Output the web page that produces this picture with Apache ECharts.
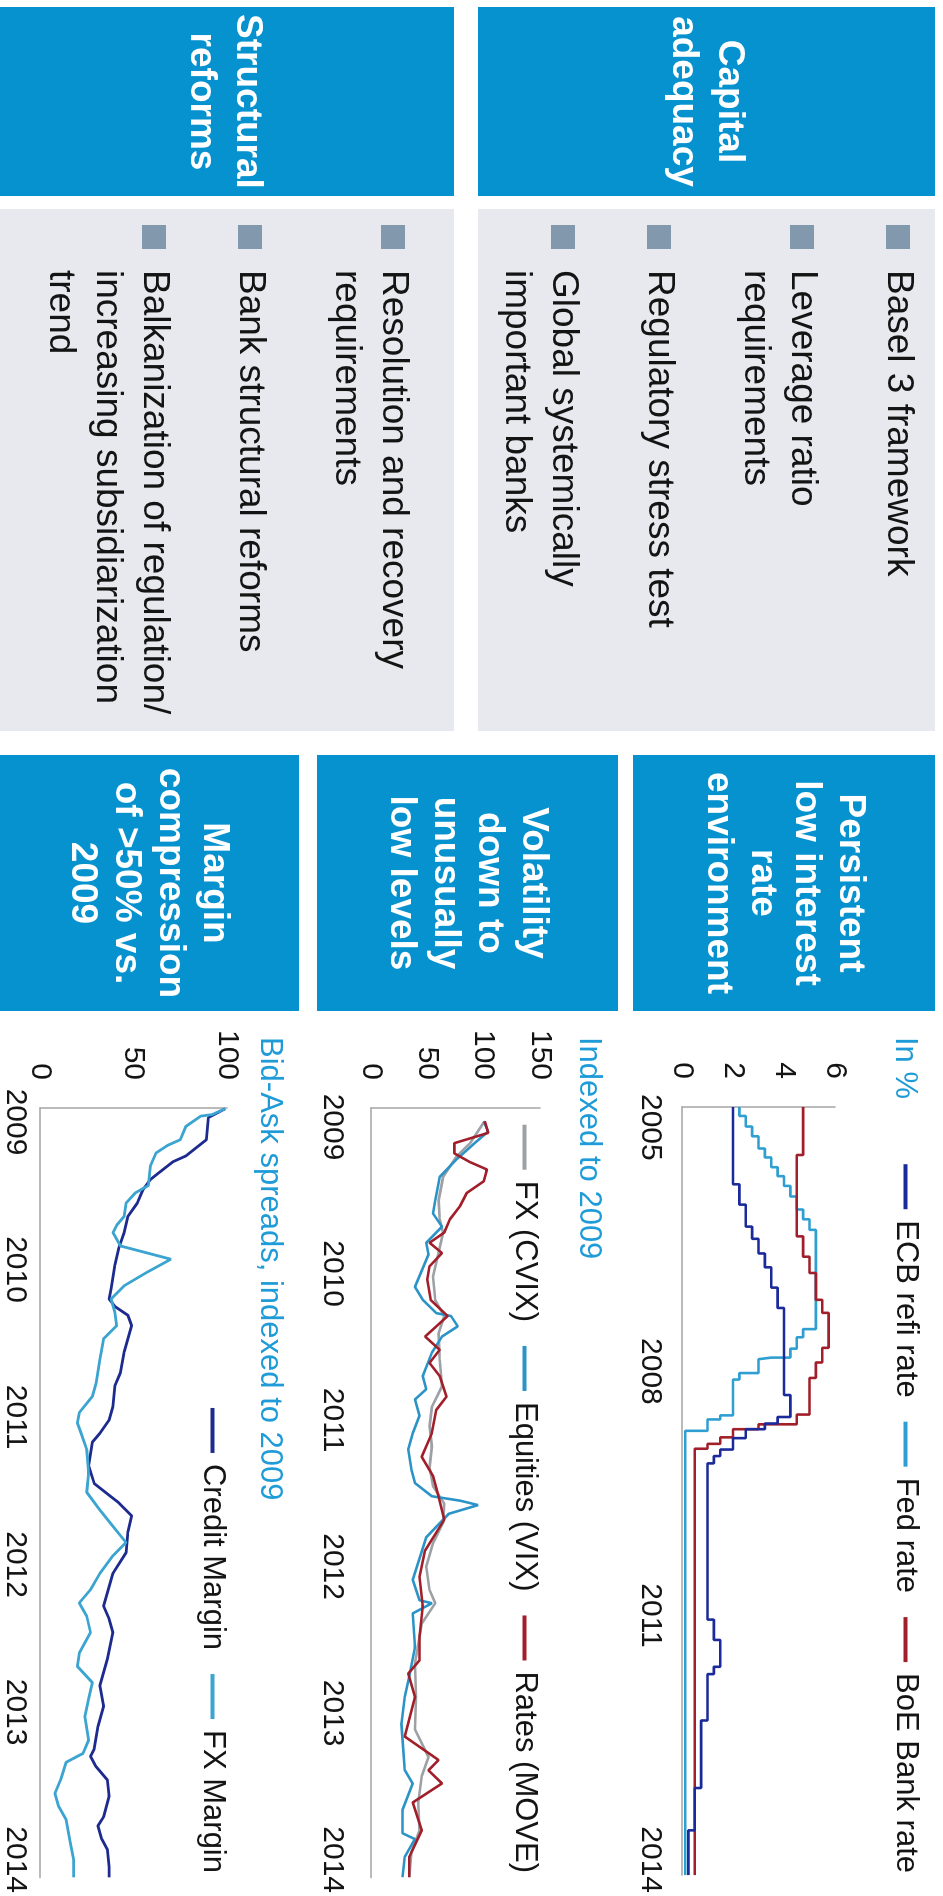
<!DOCTYPE html>
<html>
<head>
<meta charset="utf-8">
<script src="https://cdn.jsdelivr.net/npm/echarts@6/dist/echarts.min.js"></script>
<style>
  html, body { margin: 0; padding: 0; width: 943px; height: 1896px; overflow: hidden; background: #fff; }
  /* the slide is laid out landscape and turned a quarter clockwise */
  #page { position: absolute; left: 0; top: 0; width: 1896px; height: 943px;
          transform-origin: 0 0; transform: translate(943px, 0) rotate(90deg); }
  #chart { width: 1896px; height: 943px; }
</style>
</head>
<body>
<div id="page"><div id="chart"></div></div>
<script>
// ---------- text content ----------
const pillarTitles = [['Capital', 'adequacy'], ['Structural', 'reforms']];
const pillarItems = [
  [['Basel 3 framework'], ['Leverage ratio', 'requirements'], ['Regulatory stress test'], ['Global systemically', 'important banks']],
  [['Resolution and recovery', 'requirements'], ['Bank structural reforms'], ['Balkanization of regulation/', 'increasing subsidiarization', 'trend']]
];
const trendTitles = [
  ['Persistent', 'low interest', 'rate', 'environment'],
  ['Volatility', 'down to', 'unusually', 'low levels'],
  ['Margin', 'compression', 'of >50% vs.', '2009']
];
const chartCaptions = ['In %', 'Indexed to 2009', 'Bid-Ask spreads, indexed to 2009'];

// ---------- axis ticks ----------
const rateYearTicks = [2005, 2008, 2011, 2014];
const indexYearTicks = [2009, 2010, 2011, 2012, 2013, 2014];
const rateTicks = [0, 2, 4, 6];

// ---------- policy rates, in % (change date as decimal year, new rate) ----------
const ecbRefiRate = [
  [2004.75, 2.0], [2005.70, 2.25], [2005.95, 2.5], [2006.22, 2.75], [2006.37, 3.0], [2006.55, 3.25],
  [2006.72, 3.5], [2006.97, 3.75], [2007.22, 4.0], [2008.29, 4.25], [2008.56, 3.75], [2008.64, 3.25],
  [2008.71, 2.5], [2008.82, 2.0], [2008.96, 1.5], [2009.04, 1.25], [2009.13, 1.0], [2011.05, 1.25],
  [2011.30, 1.5], [2011.63, 1.25], [2011.72, 1.0], [2012.29, 0.75], [2013.12, 0.5], [2013.64, 0.25],
  [2014.19, 0.25]
];
const fedRate = [
  [2004.75, 2.25], [2004.86, 2.5], [2004.99, 2.75], [2005.11, 3.0], [2005.26, 3.25], [2005.37, 3.5],
  [2005.49, 3.75], [2005.60, 4.0], [2005.72, 4.25], [2005.85, 4.5], [2006.01, 4.75], [2006.13, 5.0],
  [2006.26, 5.25], [2007.48, 4.75], [2007.58, 4.5], [2007.72, 4.25], [2007.83, 3.5], [2007.85, 3.0],
  [2008.02, 2.25], [2008.10, 2.0], [2008.54, 1.5], [2008.59, 1.0], [2008.73, 0.125], [2014.19, 0.125]
];
const boeBankRate = [
  [2004.75, 4.75], [2005.34, 4.5], [2006.34, 4.75], [2006.59, 5.0], [2006.79, 5.25], [2007.12, 5.5],
  [2007.28, 5.75], [2007.71, 5.5], [2007.89, 5.25], [2008.08, 5.0], [2008.53, 4.5], [2008.65, 3.0],
  [2008.71, 2.0], [2008.81, 1.5], [2008.89, 1.0], [2008.95, 0.5], [2014.19, 0.5]
];

// ---------- implied volatility, indexed to 2009 = 100 ----------
const fxCvix = [
  [2008.97, 100], [2009.11, 88], [2009.20, 76], [2009.34, 64], [2009.50, 60], [2009.63, 61], [2009.72, 64],
  [2009.86, 60], [2010.02, 55], [2010.18, 57], [2010.29, 65], [2010.41, 60], [2010.59, 61], [2010.77, 63],
  [2010.91, 54], [2011.04, 52], [2011.18, 54], [2011.32, 52], [2011.45, 55], [2011.57, 65], [2011.70, 64],
  [2011.84, 55], [2012.00, 49], [2012.16, 52], [2012.25, 57], [2012.39, 45], [2012.66, 39], [2012.89, 40],
  [2013.11, 39], [2013.30, 51], [2013.43, 45], [2013.61, 42], [2013.80, 43], [2013.95, 36], [2014.12, 34]
];
const equitiesVix = [
  [2008.96, 100], [2009.03, 104], [2009.11, 92], [2009.22, 76], [2009.34, 61], [2009.50, 57], [2009.59, 55],
  [2009.68, 63], [2009.79, 49], [2009.87, 51], [2010.09, 39], [2010.18, 46], [2010.27, 58], [2010.29, 71],
  [2010.36, 77], [2010.43, 63], [2010.54, 54], [2010.70, 46], [2010.79, 49], [2010.86, 39], [2010.97, 43],
  [2011.09, 37], [2011.20, 33], [2011.34, 36], [2011.43, 39], [2011.52, 54], [2011.55, 79], [2011.58, 95],
  [2011.64, 69], [2011.80, 49], [2012.09, 37], [2012.23, 43], [2012.25, 54], [2012.32, 37], [2012.55, 39],
  [2012.75, 34], [2012.89, 30], [2013.07, 27], [2013.39, 30], [2013.48, 37], [2013.66, 28], [2013.82, 28],
  [2013.86, 39], [2013.98, 30], [2014.12, 28]
];
const ratesMove = [
  [2008.96, 101], [2009.04, 104], [2009.11, 74], [2009.18, 74], [2009.24, 88], [2009.29, 103], [2009.37, 100],
  [2009.45, 85], [2009.54, 79], [2009.63, 70], [2009.72, 65], [2009.79, 52], [2009.86, 63], [2009.95, 52],
  [2010.04, 50], [2010.18, 53], [2010.29, 68], [2010.43, 48], [2010.52, 61], [2010.61, 52], [2010.70, 61],
  [2010.84, 67], [2010.93, 58], [2011.09, 54], [2011.25, 45], [2011.38, 55], [2011.52, 60], [2011.68, 65],
  [2011.89, 48], [2012.07, 43], [2012.27, 46], [2012.48, 43], [2012.64, 43], [2012.73, 33], [2012.89, 39],
  [2013.16, 30], [2013.32, 60], [2013.39, 51], [2013.48, 63], [2013.61, 37], [2013.80, 45], [2013.98, 34],
  [2014.12, 34]
];

// ---------- bid-ask spreads, indexed to 2009 = 100 ----------
const creditMargin = [
  [2008.91, 99], [2008.97, 90], [2009.12, 89], [2009.23, 78], [2009.27, 71], [2009.34, 64], [2009.39, 59],
  [2009.46, 55], [2009.55, 52], [2009.64, 47], [2009.75, 45], [2009.86, 42], [2009.97, 40], [2010.13, 38],
  [2010.20, 37], [2010.25, 40], [2010.31, 47], [2010.38, 49], [2010.47, 47], [2010.56, 45], [2010.70, 43],
  [2010.79, 40], [2010.93, 39], [2011.02, 37], [2011.11, 32], [2011.17, 28], [2011.33, 26], [2011.45, 29],
  [2011.53, 37], [2011.58, 42], [2011.67, 49], [2011.78, 47], [2011.92, 46], [2012.06, 39], [2012.28, 34],
  [2012.37, 37], [2012.46, 39], [2012.64, 36], [2012.82, 32], [2012.96, 34], [2013.10, 31], [2013.25, 29],
  [2013.30, 27], [2013.37, 30], [2013.46, 36], [2013.57, 37], [2013.71, 34], [2013.77, 31], [2013.86, 33],
  [2013.93, 36], [2014.05, 37], [2014.12, 37]
];
const fxMargin = [
  [2008.91, 99], [2008.95, 92], [2008.96, 86], [2009.03, 78], [2009.12, 75], [2009.16, 68], [2009.21, 62],
  [2009.30, 59], [2009.43, 58], [2009.48, 51], [2009.55, 46], [2009.64, 45], [2009.70, 41], [2009.75, 39],
  [2009.84, 43], [2009.93, 70], [2010.02, 57], [2010.11, 45], [2010.20, 38], [2010.29, 40], [2010.38, 41],
  [2010.47, 34], [2010.61, 32], [2010.77, 30], [2010.86, 28], [2010.97, 21], [2011.04, 20], [2011.11, 22],
  [2011.22, 25], [2011.38, 26], [2011.51, 25], [2011.63, 32], [2011.74, 39], [2011.85, 46], [2011.94, 39],
  [2012.06, 32], [2012.17, 27], [2012.26, 21], [2012.35, 25], [2012.46, 27], [2012.60, 21], [2012.69, 20],
  [2012.80, 28], [2012.91, 26], [2013.03, 24], [2013.19, 26], [2013.28, 23], [2013.34, 14], [2013.46, 11],
  [2013.55, 8], [2013.64, 10], [2013.73, 14], [2013.87, 16], [2014.00, 18], [2014.12, 18]
];

// ---------- styling ----------
const FONT = '"Liberation Sans", Arial, Helvetica, sans-serif';
const BOX_BLUE = '#0692cf';
const BOX_GREY = '#e7e9ee';
const BULLET = '#8298ad';
const CAPTION = '#1f9bd7';
const INK = '#141414';
const AXIS = '#a4a4a4';
const NAVY = '#1b2a9a';
const SKY = '#2f9fd2';
const CRIMSON = '#a11f2a';
const SILVER = '#9da0a4';

function textEl(text, x, y, font, fill, align) {
  return { type: 'text', silent: true,
    style: { text, x, y, font, fill, align, verticalAlign: 'middle' } };
}

const graphics = [];

// left column: pillar headers and their bullet lists
const pillarBands = [[8, 465], [489, 948]];
const itemStarts = [45, 550];
pillarTitles.forEach((lines, i) => {
  const [y0, y1] = pillarBands[i];
  graphics.push({ type: 'rect', silent: true, shape: { x: 7, y: y0, width: 189, height: y1 - y0 }, style: { fill: BOX_BLUE } });
  graphics.push({ type: 'rect', silent: true, shape: { x: 209, y: y0, width: 522, height: y1 - y0 }, style: { fill: BOX_GREY } });
  const cy = (y0 + y1) / 2;
  lines.forEach((t, k) => graphics.push(
    textEl(t, 101.5, cy + (k - (lines.length - 1) / 2) * 46, 'bold 37px ' + FONT, '#fff', 'center')));
  let y = itemStarts[i];
  pillarItems[i].forEach(item => {
    graphics.push({ type: 'rect', silent: true, shape: { x: 225, y: y - 12, width: 24, height: 24 }, style: { fill: BULLET } });
    item.forEach((t, k) => graphics.push(textEl(t, 270, y + k * 47, '37px ' + FONT, INK, 'left')));
    y += (item.length - 1) * 47 + 96;
  });
});

// headers above the three trend charts
const trendBands = [[8, 310], [325, 626], [644, 946]];
trendTitles.forEach((lines, i) => {
  const [y0, y1] = trendBands[i];
  graphics.push({ type: 'rect', silent: true, shape: { x: 755, y: y0, width: 256, height: y1 - y0 }, style: { fill: BOX_BLUE } });
  const cy = (y0 + y1) / 2;
  lines.forEach((t, k) => graphics.push(
    textEl(t, 883, cy + (k - (lines.length - 1) / 2) * 44, 'bold 37px ' + FONT, '#fff', 'center')));
});

// captions over each chart
const captionRows = [38, 354, 673];
chartCaptions.forEach((t, i) => graphics.push(textEl(t, 1037, captionRows[i], '31px ' + FONT, CAPTION, 'left')));

// ---------- axes ----------
function xAxisFor(gridIndex, min, max, ticks, margin) {
  return {
    type: 'value', gridIndex, min, max,
    axisLine: { show: true, lineStyle: { color: AXIS, width: 1.5 } },
    axisTick: { show: false }, splitLine: { show: false },
    axisLabel: { customValues: ticks, margin, fontSize: 30, color: INK, fontFamily: FONT,
      formatter: v => String(Math.round(v)) }
  };
}
function yAxisFor(gridIndex, max, interval) {
  return {
    type: 'value', gridIndex, min: 0, max, interval,
    axisLine: { show: true, lineStyle: { color: AXIS, width: 1.5 } },
    axisTick: { show: false }, splitLine: { show: false },
    axisLabel: { margin: 28, fontSize: 30, color: INK, fontFamily: FONT }
  };
}
function legendFor(names, top) {
  return {
    data: names, right: 23, top, padding: 0, icon: 'rect', itemWidth: 45, itemHeight: 4, itemGap: 24,
    selectedMode: false,
    textStyle: { fontSize: 31, color: INK, fontFamily: FONT, padding: [0, 0, 0, 6] }
  };
}
function lineSeries(name, data, color, axis, width, step) {
  return {
    name, type: 'line', data, xAxisIndex: axis, yAxisIndex: axis, step: step || false,
    showSymbol: false, symbol: 'none', smooth: false,
    lineStyle: { color, width }, itemStyle: { color }
  };
}

const option = {
  animation: false,
  backgroundColor: '#fff',
  textStyle: { fontFamily: FONT },
  graphic: graphics,
  grid: [
    { left: 1107, top: 108, width: 771, height: 153 },
    { left: 1108, top: 403, width: 770, height: 169 },
    { left: 1108, top: 716, width: 770, height: 187 }
  ],
  xAxis: [
    xAxisFor(0, 2004.75, 2014.19, rateYearTicks, 17),
    xAxisFor(1, 2008.87, 2014.123, indexYearTicks, 24),
    xAxisFor(2, 2008.905, 2014.122, indexYearTicks, 10)
  ],
  yAxis: [
    Object.assign(yAxisFor(0, 6, 2), { axisLabel: { margin: 28, fontSize: 30, color: INK, fontFamily: FONT, customValues: rateTicks } }),
    yAxisFor(1, 150, 50),
    yAxisFor(2, 100, 50)
  ],
  legend: [
    legendFor(['ECB refi rate', 'Fed rate', 'BoE Bank rate'], 22),
    legendFor(['FX (CVIX)', 'Equities (VIX)', 'Rates (MOVE)'], 403),
    legendFor(['Credit Margin', 'FX Margin'], 715)
  ],
  series: [
    lineSeries('Fed rate', fedRate, SKY, 0, 2.6, 'end'),
    lineSeries('BoE Bank rate', boeBankRate, CRIMSON, 0, 2.6, 'end'),
    lineSeries('ECB refi rate', ecbRefiRate, NAVY, 0, 2.6, 'end'),
    lineSeries('FX (CVIX)', fxCvix, SILVER, 1, 2.6),
    lineSeries('Equities (VIX)', equitiesVix, '#2b93c6', 1, 2.6),
    lineSeries('Rates (MOVE)', ratesMove, CRIMSON, 1, 2.6),
    lineSeries('Credit Margin', creditMargin, '#1e2b8e', 2, 2.8),
    lineSeries('FX Margin', fxMargin, '#3ba4d0', 2, 2.8)
  ]
};

const chart = echarts.init(document.getElementById('chart'), null, { renderer: 'canvas' });
chart.setOption(option);
</script>
</body>
</html>
